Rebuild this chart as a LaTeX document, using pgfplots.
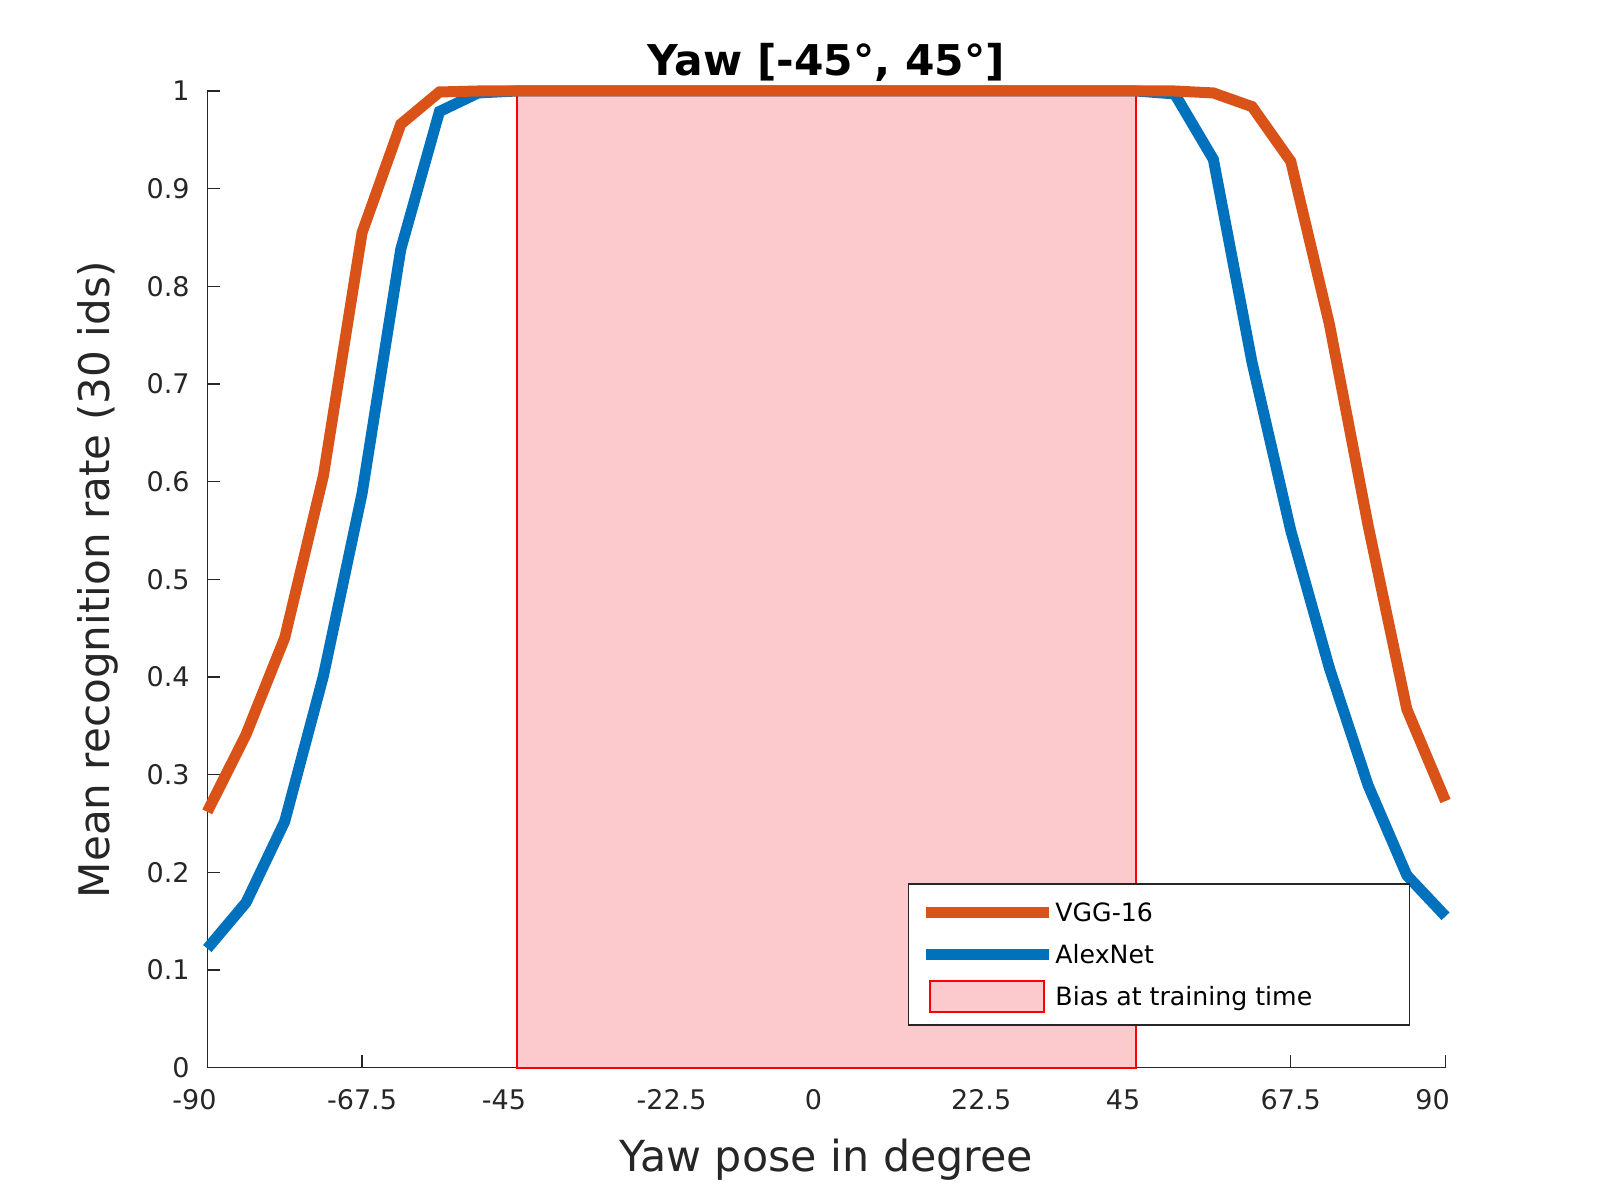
\documentclass[border=0pt]{standalone}
\usepackage{pgfplots}
\pgfplotsset{compat=1.18}
\usepackage{fontspec}
\setmainfont{DejaVu Sans}
\definecolor{mBlue}{RGB}{0,114,189}
\definecolor{mOrange}{RGB}{217,83,25}
\definecolor{mPink}{RGB}{252,202,205}
\definecolor{axgray}{RGB}{38,38,38}
\pgfplotsset{
  lineleg/.style={legend image code/.code={\draw[##1] (0pt,0pt) -- (61.35pt,0pt);}},
  rectleg/.style={legend image code/.code={\draw[##1] (2.15pt,-7.825pt) rectangle (59.15pt,7.825pt);}},
}
\begin{document}
\begin{tikzpicture}
\path[use as bounding box] (0,0) rectangle (800pt,600pt);
\begin{axis}[
  at={(103.65pt,66.15pt)}, anchor=south west,
  scale only axis, width=619.1pt, height=488.35pt,
  xmin=-90, xmax=90, ymin=0, ymax=1,
  clip=false,
  axis lines=left,
  axis line style={axgray, line width=0.7pt, -},
  x axis line style={-}, y axis line style={-},
  tick style={axgray, line width=0.7pt},
  tick align=inside,
  major tick length=6.5pt,
  xtick={-90,-67.5,-45,-22.5,0,22.5,45,67.5,90},
  xticklabels={-90\phantom{.5},-67.5,-45\phantom{.5},-22.5,0\phantom{.5},22.5,45\phantom{.5},67.5,90\phantom{.5}},
  ytick={0,0.1,0.2,0.3,0.4,0.5,0.6,0.7,0.8,0.9,1},
  yticklabels={0,0.1,0.2,0.3,0.4,0.5,0.6,0.7,0.8,0.9,1},
  xticklabel style={font=\fontsize{13.5pt}{15pt}\selectfont, text=axgray, anchor=north, inner sep=0pt, yshift=-10.8pt},
  yticklabel style={font=\fontsize{13.5pt}{15pt}\selectfont, text=axgray, anchor=east, inner sep=0pt, xshift=-8.65pt},
  xlabel={Yaw pose in degree},
  xlabel style={font=\fontsize{21.4pt}{25pt}\selectfont, text=axgray, at={(axis description cs:0.5,-0.10648)}, anchor=base, inner sep=0pt},
  ylabel={Mean recognition rate (30 ids)},
  ylabel style={font=\fontsize{21.05pt}{25pt}\selectfont, text=axgray, at={(axis description cs:-0.07899,0.5)}, anchor=base, inner sep=0pt},
  title={Yaw [-45°, 45°]},
  title style={font=\bfseries\fontsize{21.2pt}{26pt}\selectfont, text=black, at={(axis description cs:0.5,1.00338)}, anchor=base, inner sep=0pt},
  legend style={at={(axis description cs:0.5657,0.1891)}, anchor=north west, draw=axgray, line width=0.8pt, fill=white,
    inner xsep=6.05pt, inner ysep=3.6pt, font=\fontsize{12.6pt}{15pt}\selectfont,
    column sep=0.55pt, row sep=0pt,
    nodes={inner sep=0pt, text height=15.1pt, text depth=6.0pt, text=black}},
  legend cell align=left,
  reverse legend,
]
\addplot[fill=mPink, draw=red, line width=1pt, rectleg]
  coordinates {(-45,1) (45,1)} \closedcycle;
\addlegendentry{\makebox[170.95pt][l]{Bias at training time}}

\addplot[mBlue, line width=5.5pt, lineleg]
  coordinates {
  (-90,0.122) (-84.375,0.169) (-78.75,0.252) (-73.125,0.401) (-67.5,0.588)
  (-61.875,0.838) (-56.25,0.979) (-50.625,0.998) (-45,1) (-39.375,1)
  (-33.75,1) (-28.125,1) (-22.5,1) (-16.875,1) (-11.25,1) (-5.625,1)
  (0,1) (5.625,1) (11.25,1) (16.875,1) (22.5,1) (28.125,1) (33.75,1)
  (39.375,1) (45,1) (50.625,0.997) (56.25,0.930) (61.875,0.722)
  (67.5,0.550) (73.125,0.409) (78.75,0.289) (84.375,0.197) (90,0.155)
  };
\addlegendentry{\makebox[170.95pt][l]{AlexNet}}

\addplot[mOrange, line width=5.5pt, lineleg]
  coordinates {
  (-90,0.262) (-84.375,0.341) (-78.75,0.440) (-73.125,0.606) (-67.5,0.855)
  (-61.875,0.966) (-56.25,0.999) (-50.625,1) (-45,1) (-39.375,1)
  (-33.75,1) (-28.125,1) (-22.5,1) (-16.875,1) (-11.25,1) (-5.625,1)
  (0,1) (5.625,1) (11.25,1) (16.875,1) (22.5,1) (28.125,1) (33.75,1)
  (39.375,1) (45,1) (50.625,1) (56.25,0.998) (61.875,0.984)
  (67.5,0.928) (73.125,0.761) (78.75,0.555) (84.375,0.367) (90,0.273)
  };
\addlegendentry{\makebox[170.95pt][l]{VGG-16}}
\end{axis}
\end{tikzpicture}
\end{document}
